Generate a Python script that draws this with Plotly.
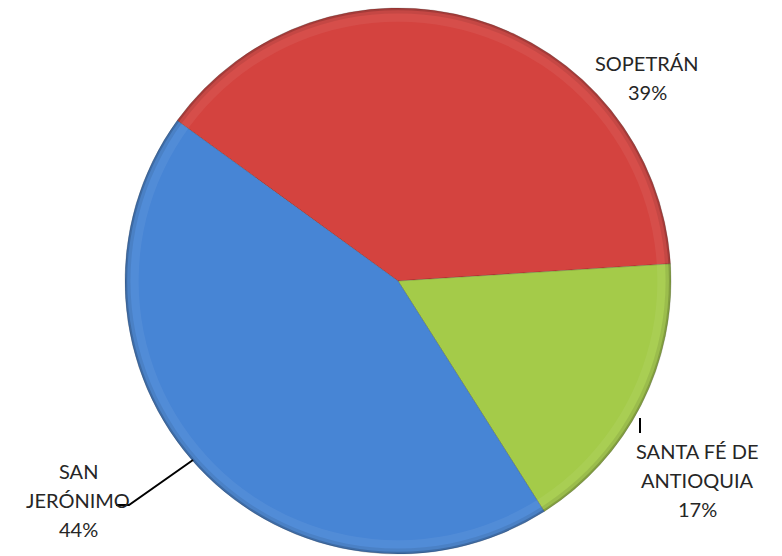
import plotly.graph_objects as go

# Municipality shares (%)
municipios = ["SOPETRÁN", "SANTA FÉ DE<br>ANTIOQUIA", "SAN<br>JERÓNIMO"]
porcentajes = [39, 17, 44]
colores = ["#D4433F", "#A4CB49", "#4785D5"]

W, H = 782, 556
cx, cy, r = 398, 281, 273
dom = dict(x=[(cx - r) / W, (cx + r) / W], y=[1 - (cy + r) / H, 1 - (cy - r) / H])

fig = go.Figure()
fig.add_trace(go.Pie(
    values=porcentajes,
    labels=municipios,
    sort=False,
    direction="clockwise",
    rotation=306,
    textinfo="none",
    hoverinfo="label+percent",
    marker=dict(colors=colores, line=dict(width=1, color="rgba(0,0,0,0.18)")),
    domain=dom,
    showlegend=False,
))

# soft bevel along the rim: light band inside, darker edge outside
for hole, col in [(0.95, "rgba(255,255,255,0.06)"), (0.98, "rgba(0,0,0,0.08)"), (0.992, "rgba(0,0,0,0.16)")]:
    fig.add_trace(go.Pie(
        values=[1], hole=hole, sort=False, textinfo="none", hoverinfo="skip",
        marker=dict(colors=[col], line=dict(width=0)),
        domain=dom, showlegend=False,
    ))

# label block centres (pixels, top-left origin) and line pitch
label_pos = [(647, 78), (697, 480), (78, 500)]
pitch = 29
for name, pct, (lx, ly) in zip(municipios, porcentajes, label_pos):
    rows = name.split("<br>") + [f"{pct}%"]
    y0 = ly - pitch * (len(rows) - 1) / 2
    for i, row in enumerate(rows):
        fig.add_annotation(
            x=lx / W, y=1 - (y0 + i * pitch) / H, xref="paper", yref="paper",
            xanchor="center", yanchor="middle",
            text=row, showarrow=False,
            font=dict(family="Lato, Open Sans, sans-serif", size=20, color="#262626"),
        )

# leader lines
lines = [
    [(640, 418), (640, 433)],
    [(193, 460), (129, 505), (116, 505)],
]
for pts in lines:
    path = "M " + " L ".join(f"{x / W},{1 - y / H}" for x, y in pts)
    fig.add_shape(type="path", path=path, xref="paper", yref="paper",
                  line=dict(color="black", width=2))

fig.update_layout(
    width=W, height=H,
    margin=dict(l=0, r=0, t=0, b=0),
    paper_bgcolor="white", plot_bgcolor="white",
)
fig.write_html("out.html")
